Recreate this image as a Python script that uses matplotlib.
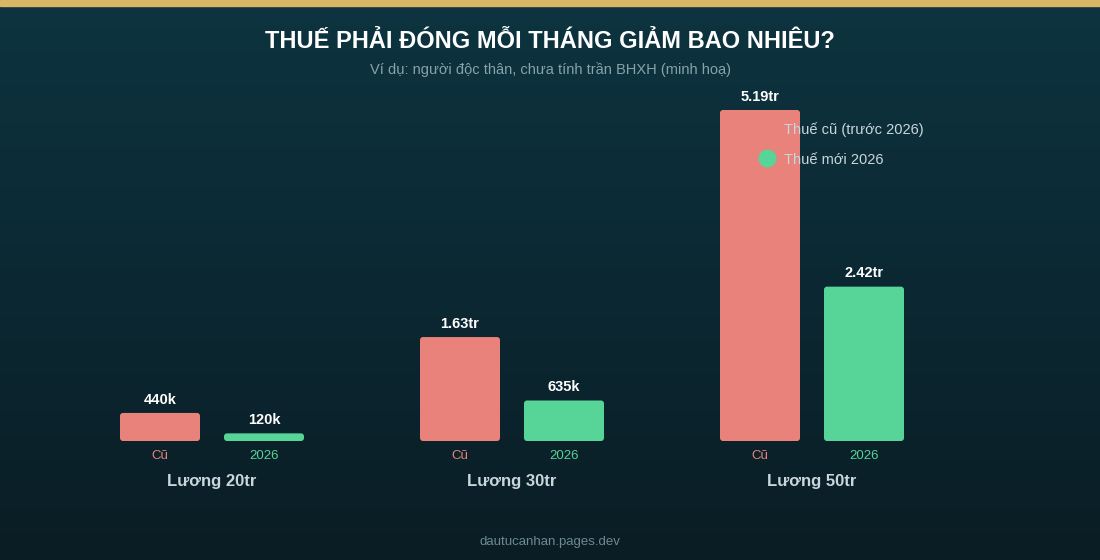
import numpy as np
import matplotlib
matplotlib.use('Agg')
import matplotlib.pyplot as plt
from matplotlib.patches import FancyBboxPatch, Rectangle

plt.rcParams['font.family'] = ['Liberation Sans', 'DejaVu Sans']

# data (trieu dong / thang)
groups = ['Lương 20tr', 'Lương 30tr', 'Lương 50tr']
tax_old = [0.44, 1.63, 5.19]
tax_new = [0.12, 0.635, 2.42]
labels_old = ['440k', '1.63tr', '5.19tr']
labels_new = ['120k', '635k', '2.42tr']
bar_names = ['Cũ', '2026']
legend_names = ['Thuế cũ (trước 2026)', 'Thuế mới 2026']

RED = '#e8827a'
GREEN = '#57d497'
W, H = 1100, 560

fig = plt.figure(figsize=(11, 5.6), dpi=100)

# background gradient
bg = fig.add_axes([0, 0, 1, 1], zorder=-10)
grad = np.linspace(0, 1, 256).reshape(-1, 1)
top = np.array([0x0d, 0x34, 0x40]) / 255.
bot = np.array([0x0a, 0x1d, 0x25]) / 255.
img = top + (bot - top) * grad[:, :, None]
bg.imshow(img, aspect='auto', extent=[0, 1, 0, 1])
bg.add_patch(Rectangle((0, 1 - 6 / H), 1, 6 / H, color='#d9b664'))
bg.set_xlim(0, 1)
bg.set_ylim(0, 1)
bg.axis('off')

# main axes: pixel x 62..962, y 90..441
ax = fig.add_axes([62 / W, (H - 441) / H, 900 / W, 351 / H])
ax.set_xlim(-0.5, 2.5)
ymax = 5.19 * 351 / 331
ax.set_ylim(0, ymax)
ax.axis('off')
ax.patch.set_alpha(0)

bw = 80 / 300.
off = 52 / 300.
px_x = 900 / 3.0          # pixels per x unit
px_y = 351 / ymax         # pixels per y unit
rs = 3 / px_x
aspect = px_x / px_y


def rbar(x, h, color):
    p = FancyBboxPatch((x - bw / 2, 0), bw, h,
                       boxstyle='round,pad=0,rounding_size=%f' % rs,
                       mutation_aspect=aspect, fc=color, ec='none', zorder=2)
    ax.add_patch(p)


for i in range(len(groups)):
    rbar(i - off, tax_old[i], RED)
    rbar(i + off, tax_new[i], GREEN)
    ax.text(i - off, tax_old[i] + 0.1, labels_old[i], ha='center', va='bottom',
            color='white', fontsize=10.5, fontweight='bold')
    ax.text(i + off, tax_new[i] + 0.1, labels_new[i], ha='center', va='bottom',
            color='white', fontsize=10.5, fontweight='bold')
    ax.text(i - off, -0.23, bar_names[0], ha='center', va='center',
            color=RED, fontsize=9.5)
    ax.text(i + off, -0.23, bar_names[1], ha='center', va='center',
            color=GREEN, fontsize=9.5)
    ax.text(i, -0.63, groups[i], ha='center', va='center',
            color='#c9d7db', fontsize=12, fontweight='bold')

# legend, drawn over the tall bar
for k, (name, col) in enumerate(zip(legend_names, [RED, GREEN])):
    py = 128 + 30 * k
    ax.plot([767 / W], [1 - py / H], marker='o', ms=12, color=col,
            linestyle='none', transform=fig.transFigure, clip_on=False,
            zorder=10)
    fig.text(784 / W, 1 - (py + 2) / H, name, ha='left', va='center',
             color='#c9d7db', fontsize=10.5)

fig.text(0.5, 1 - 41 / H, 'THUẾ PHẢI ĐÓNG MỖI THÁNG GIẢM BAO NHIÊU?',
         ha='center', va='center', color='white', fontsize=17,
         fontweight='bold')
fig.text(0.5, 1 - 70 / H, 'Ví dụ: người độc thân, chưa tính trần BHXH (minh hoạ)',
         ha='center', va='center', color='#87a2a8', fontsize=10.5)
fig.text(0.5, 1 - 542 / H, 'dautucanhan.pages.dev', ha='center', va='center',
         color='#6c8a91', fontsize=9.5)

fig.savefig('out.png', dpi=100)
